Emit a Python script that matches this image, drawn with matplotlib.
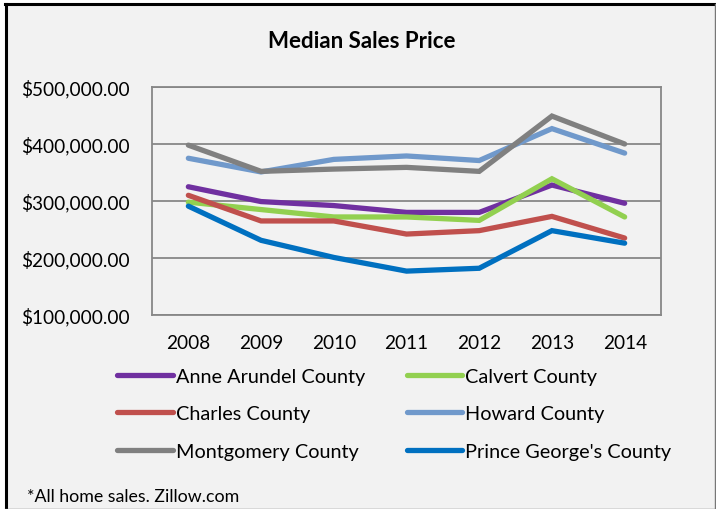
import matplotlib.pyplot as plt
from matplotlib.lines import Line2D
from matplotlib.patches import Rectangle
from matplotlib.ticker import FuncFormatter

plt.rcParams['font.family'] = ['Lato', 'DejaVu Sans']

years = ['2008', '2009', '2010', '2011', '2012', '2013', '2014']
anne_arundel = [325000, 299000, 292000, 280000, 280000, 328000, 296000]
calvert = [298000, 285000, 272000, 272000, 266000, 339000, 272000]
charles = [310000, 265000, 265000, 242000, 248000, 273000, 235000]
howard = [375000, 351000, 373000, 379000, 371000, 427000, 384000]
montgomery = [398000, 352000, 356000, 359000, 352000, 449000, 400000]
prince_georges = [291000, 231000, 201000, 177000, 182000, 248000, 226000]

series = [
    ('Anne Arundel County', anne_arundel, '#7030a0'),
    ('Calvert County', calvert, '#92d050'),
    ('Charles County', charles, '#c0504d'),
    ('Howard County', howard, '#7099cb'),
    ('Montgomery County', montgomery, '#808080'),
    ("Prince George's County", prince_georges, '#0070c0'),
]

W, H = 716, 510
fig = plt.figure(figsize=(W / 100, H / 100), dpi=100, facecolor='white')

# chart frame
fig.add_artist(Rectangle((5 / W, 0), 710 / W, (H - 5) / H, transform=fig.transFigure,
                         facecolor='#f2f2f2', edgecolor='none', zorder=0))
fig.add_artist(Line2D([5 / W, 715 / W], [1 - 5 / H, 1 - 5 / H], color='black', lw=2.2))
fig.add_artist(Line2D([6 / W, 6 / W], [0, 1 - 5 / H], color='black', lw=2.2))
fig.add_artist(Line2D([715 / W, 715 / W], [0, 1 - 5 / H], color='#777777', lw=1))
fig.add_artist(Line2D([5 / W, 715 / W], [0.5 / H, 0.5 / H], color='#777777', lw=1))

ax = fig.add_axes([152 / W, (H - 316) / H, 509 / W, 228 / H])
ax.set_facecolor('#f2f2f2')

x = list(range(len(years)))
lines = []
for name, vals, col in series:
    ln, = ax.plot(x, vals, color=col, lw=3.8, label=name, solid_capstyle='round',
                  solid_joinstyle='miter')
    lines.append(ln)

ax.set_xlim(-0.5, len(years) - 0.5)
ax.set_ylim(100000, 500000)
ax.set_yticks([100000, 200000, 300000, 400000, 500000])
ax.yaxis.set_major_formatter(FuncFormatter(lambda v, p: '${:,.2f}'.format(v)))
ax.set_xticks(x)
ax.set_xticklabels(years)
ax.grid(axis='y', color='#878787', lw=1.3)
ax.set_axisbelow(True)
for s in ax.spines.values():
    s.set_color('#878787')
    s.set_linewidth(1.3)
ax.tick_params(length=0, labelsize=13.7, colors='black')
ax.tick_params(axis='y', pad=16)
ax.tick_params(axis='x', pad=14)

fig.text(362 / W, 1 - 42 / H, 'Median Sales Price', ha='center', va='center',
         fontsize=16, fontweight='bold')

# row-wise legend order, as in the original
order = [0, 2, 4, 1, 3, 5]
leg = fig.legend(handles=[lines[i] for i in order], loc='upper left',
                 bbox_to_anchor=(117 / W, 1 - 369 / H),
                 ncol=2, frameon=False, fontsize=14.3, handlelength=2.8, handletextpad=0.15,
                 labelspacing=1.02, columnspacing=2.1, borderpad=0, borderaxespad=0)

fig.text(27 / W, 1 - 497 / H, '*All home sales. Zillow.com', ha='left', va='center',
         fontsize=12.8)

fig.savefig('out.png', dpi=100, facecolor=fig.get_facecolor())
